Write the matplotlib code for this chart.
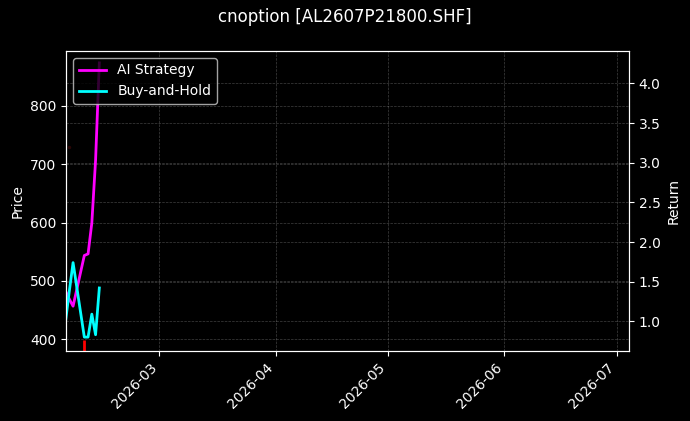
import matplotlib
matplotlib.use("Agg")
import matplotlib.pyplot as plt
import matplotlib.dates as mdates
import pandas as pd

plt.style.use("dark_background")

# ---- data ----
dates = pd.to_datetime(["2026-02-04", "2026-02-05", "2026-02-06", "2026-02-09",
                        "2026-02-10", "2026-02-11", "2026-02-12", "2026-02-13"])
ai_strategy = [1.38, 1.28, 1.19, 1.83, 1.85, 2.24, 3.03, 4.26]
buy_and_hold = [1.00, 1.38, 1.74, 0.80, 0.80, 1.09, 0.83, 1.42]

signal_dates = pd.to_datetime(["2026-02-09"])
signal_low = [370]
signal_high = [398]

faint_dates = pd.to_datetime(["2026-02-05"])
faint_price = [730]

title = "cnoption [AL2607P21800.SHF]"
x_start = pd.Timestamp("2026-02-04 03:00")
x_end = pd.Timestamp("2026-07-04 05:00")
price_lim = (380, 894)
return_lim = (0.625, 4.41)

# ---- plot ----
fig = plt.figure(figsize=(6.9, 4.21), dpi=100)
ax1 = fig.add_axes([0.0957, 0.1663, 0.9116 - 0.0957, 0.8789 - 0.1663])
ax1.set_facecolor("black")
fig.patch.set_facecolor("black")

ax1.vlines(signal_dates, signal_low, signal_high, color="red", linewidth=2)
ax1.plot(faint_dates, faint_price, "o", color="#2a0606", markersize=1.5)
ax1.set_ylabel("Price")
ax1.set_ylim(*price_lim)
ax1.grid(True, linestyle="--", linewidth=0.5, alpha=0.25)

ax2 = ax1.twinx()
l1, = ax2.plot(dates, ai_strategy, color="magenta", linewidth=2, label="AI Strategy")
l2, = ax2.plot(dates, buy_and_hold, color="cyan", linewidth=2, label="Buy-and-Hold")
ax2.set_ylabel("Return")
ax2.set_ylim(*return_lim)
ax2.grid(True, linestyle="--", linewidth=0.5, alpha=0.25)
ax2.legend(handles=[l1, l2], loc="upper left")

ax1.set_xlim(x_start, x_end)
ax1.xaxis.set_major_locator(mdates.MonthLocator())
ax1.xaxis.set_major_formatter(mdates.DateFormatter("%Y-%m"))
for lab in ax1.get_xticklabels():
    lab.set_rotation(45)
    lab.set_ha("right")

fig.suptitle(title, fontsize=12)
fig.savefig("out.png", dpi=100, facecolor="black")
